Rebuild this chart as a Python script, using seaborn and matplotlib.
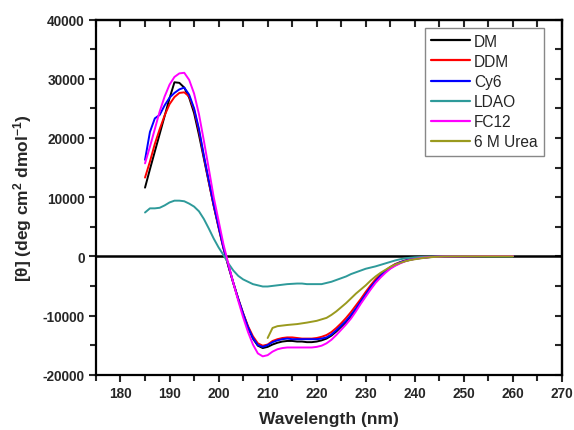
import numpy as np
import pandas as pd
import matplotlib
matplotlib.use("Agg")
import matplotlib.pyplot as plt
import seaborn as sb

# wavelength grid (nm) shared by the detergent spectra
wl = list(range(185, 241)) + [242, 244, 246, 250, 255, 260]

dm = [11600, 14700, 17700, 20700, 23700, 26700, 29400, 29300, 28500, 26800,
      24200, 20500, 16500, 12500, 8600, 5000, 1500, -1600, -4500, -7200,
      -9700, -12000, -13900, -15100, -15500, -15300, -14900, -14600, -14400, -14300,
      -14300, -14400, -14400, -14500, -14500, -14400, -14200, -13900, -13400, -12700,
      -11900, -11100, -10100, -9000, -7800, -6600, -5400, -4300, -3400, -2600,
      -2000, -1500, -1100, -800, -600, -420,
      -200, -80, -20, 0, 50, 50]

ddm = [13300, 16000, 19000, 21500, 23800, 25700, 26900, 27600, 27700, 27000,
       24800, 21200, 16800, 12600, 8500, 4800, 1300, -1700, -4500, -7200,
       -9600, -11800, -13500, -14700, -15100, -14900, -14300, -14000, -13800, -13700,
       -13700, -13800, -13900, -13900, -13900, -13800, -13600, -13300, -12800, -12100,
       -11300, -10400, -9400, -8300, -7200, -6000, -4900, -3900, -3100, -2400,
       -1800, -1300, -1000, -700, -500, -350,
       -170, -60, -10, 0, 50, 50]

cy6 = [16300, 21000, 23300, 23900, 25500, 26800, 27600, 28200, 28500, 27300,
       25000, 21500, 17000, 12800, 8700, 5000, 1400, -1600, -4500, -7200,
       -9700, -12000, -13800, -15000, -15300, -15000, -14500, -14200, -14000, -13900,
       -14000, -14000, -14000, -14000, -14000, -14000, -13900, -13700, -13200, -12500,
       -11700, -10900, -9900, -8800, -7600, -6400, -5200, -4200, -3300, -2500,
       -1900, -1400, -1000, -750, -550, -400,
       -190, -70, -20, 0, 50, 50]

ldao = [7400, 8100, 8100, 8200, 8600, 9100, 9400, 9400, 9300, 8900,
        8400, 7600, 6300, 4700, 3000, 1500, 200, -1200, -2400, -3300,
        -3900, -4300, -4700, -4900, -5100, -5100, -5000, -4900, -4800, -4700,
        -4650, -4600, -4600, -4700, -4700, -4700, -4700, -4500, -4300, -4000,
        -3700, -3400, -3000, -2700, -2400, -2100, -1900, -1700, -1450, -1200,
        -950, -700, -500, -350, -250, -170,
        -80, -30, 0, 0, 0, 0]

fc12 = [15700, 18500, 21500, 24500, 27000, 29000, 30300, 30900, 31000, 29800,
        27500, 24000, 19500, 14800, 10000, 6000, 2000, -1300, -4500, -7500,
        -10300, -12800, -14900, -16400, -16900, -16700, -16100, -15700, -15500, -15400,
        -15400, -15400, -15400, -15400, -15400, -15300, -15100, -14700, -14100, -13300,
        -12400, -11500, -10500, -9300, -8000, -6800, -5600, -4500, -3600, -2800,
        -2100, -1600, -1200, -850, -600, -450,
        -200, -80, -20, 0, 50, 50]

# 6 M urea spectrum starts at ~210 nm
wl_urea = [210, 211, 212, 214, 216, 218, 220, 222, 223, 224, 225, 226, 227, 228,
           229, 230, 231, 232, 233, 234, 235, 236, 237, 238, 239, 240,
           242, 244, 246, 250, 255, 260]
urea = [-13800, -12100, -11800, -11600, -11450, -11200, -10900, -10400, -9900, -9300,
        -8600, -7900, -7100, -6300, -5600, -4900, -4100, -3400, -2800, -2300,
        -1800, -1400, -1100, -850, -650, -500,
        -250, -100, -30, 0, 0, 0]

names = ["DM", "DDM", "Cy6", "LDAO", "FC12", "6 M Urea"]
colors = ["black", "#ff0000", "#0000ff", "#2e9a9a", "#ff00ff", "#9a9a1e"]

frames = []
for name, x, y in [("DM", wl, dm), ("DDM", wl, ddm), ("Cy6", wl, cy6),
                   ("LDAO", wl, ldao), ("FC12", wl, fc12), ("6 M Urea", wl_urea, urea)]:
    frames.append(pd.DataFrame({"wl": x, "theta": y, "sample": name}))
df = pd.concat(frames, ignore_index=True)

sb.set_style("ticks")
plt.rcParams['font.family'] = ['Liberation Sans', 'DejaVu Sans']
plt.rcParams['mathtext.fontset'] = 'custom'
plt.rcParams['mathtext.rm'] = 'Liberation Sans'
plt.rcParams['mathtext.bf'] = 'Liberation Sans:bold'
plt.rcParams['axes.unicode_minus'] = False

fig = plt.figure(figsize=(5.74, 4.31), dpi=100)
ax = fig.add_axes([0.1672, 0.1283, 0.8118, 0.8241])

ax.axhline(0, color="black", lw=1.8, zorder=1)
sb.lineplot(data=df, x="wl", y="theta", hue="sample", hue_order=names,
            palette=dict(zip(names, colors)), estimator=None, sort=False,
            lw=1.4, ax=ax, zorder=2)

ax.set_xlim(175, 270)
ax.set_ylim(-20000, 40000)
ax.set_xticks(np.arange(180, 271, 10))
ax.set_xticks(np.arange(175, 271, 10), minor=True)
ax.set_yticks(np.arange(-20000, 40001, 10000))
ax.set_yticks(np.arange(-15000, 40000, 10000), minor=True)
ax.tick_params(which="major", direction="out", length=5, width=1.5,
               labelsize=9.8, pad=3)
ax.tick_params(which="minor", direction="out", length=4, width=1.5)
for lab in ax.get_xticklabels() + ax.get_yticklabels():
    lab.set_fontweight("bold")
for sp in ax.spines.values():
    sp.set_linewidth(1.6)
    sp.set_color("black")

# inward ticks on top and right
top = ax.secondary_xaxis("top")
top.set_xticks(np.arange(175, 271, 5))
top.tick_params(direction="in", length=5, width=1.5, labeltop=False)
top.spines["top"].set_linewidth(1.6)
right = ax.secondary_yaxis("right")
right.set_yticks(np.arange(-20000, 40001, 5000))
right.tick_params(direction="in", length=5, width=1.5, labelright=False)
right.spines["right"].set_linewidth(1.6)

ax.set_xlabel("Wavelength (nm)", fontsize=12.5, fontweight="bold", labelpad=8)
ax.set_ylabel(r"[θ] (deg cm$\mathbf{^{2}}$ dmol$\mathbf{^{-1}}$)",
              fontsize=12.5, fontweight="bold", labelpad=6)

leg = ax.legend(loc="upper right", bbox_to_anchor=(0.9615, 0.9775), borderaxespad=0,
                fontsize=11.2, frameon=True, fancybox=False, framealpha=1,
                edgecolor="#888888", handlelength=2.5, handletextpad=0.25,
                labelspacing=0.33, borderpad=0.4, title=None)
leg.get_frame().set_linewidth(1.0)
for line in leg.get_lines():
    line.set_linewidth(1.6)

fig.savefig("out.png", dpi=100)
